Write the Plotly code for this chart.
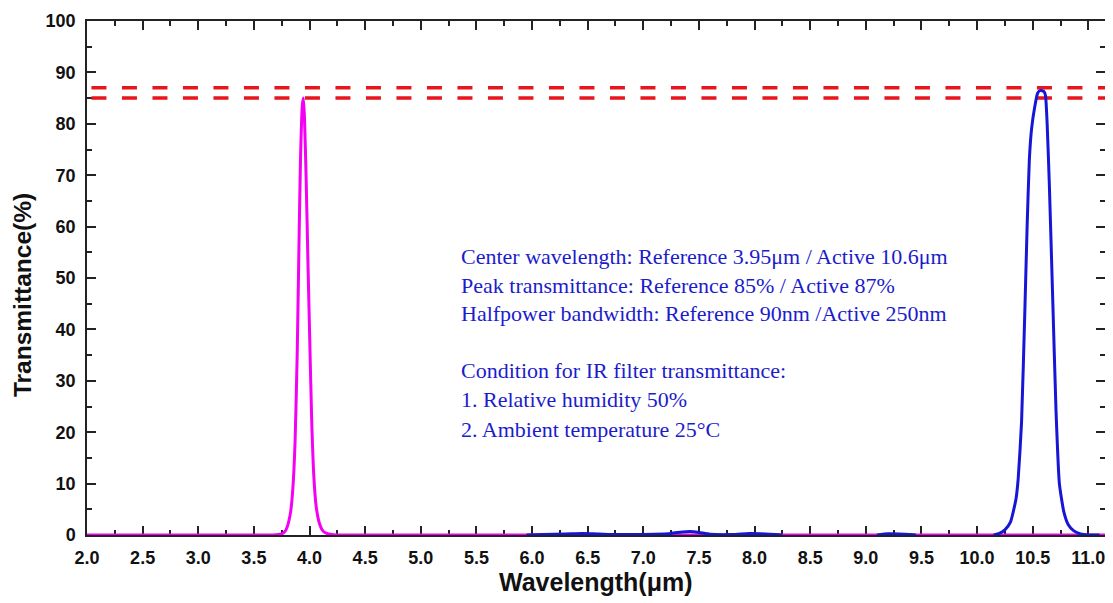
import plotly.graph_objects as go

# ---- data ----
ref_x = [2.0, 3.0, 3.6, 3.70, 3.75, 3.78, 3.80, 3.83, 3.85, 3.87, 3.89, 3.905, 3.92, 3.935, 3.945,
         3.955, 3.97, 3.985, 4.00, 4.02, 4.04, 4.06, 4.09, 4.12, 4.15, 4.20, 4.30, 5.0, 8.0, 11.15]
ref_y = [0.0, 0.0, 0.0, 0.05, 0.2, 0.7, 1.6, 4.5, 9.0, 18.0, 36.0, 56.0, 74.0, 83.5, 85.0,
         81.0, 69.0, 54.0, 40.0, 22.0, 11.0, 5.5, 2.2, 0.8, 0.35, 0.1, 0.0, 0.0, 0.0, 0.0]

act_x = [5.95, 6.1, 6.3, 6.45, 6.55, 6.7, 6.9, 7.1, 7.25, 7.35, 7.42, 7.5, 7.6, 7.8, 7.95, 8.05, 8.25, None,
         9.1, 9.2, 9.3, 9.45, None,
         10.15, 10.2, 10.25, 10.3, 10.35, 10.37, 10.40, 10.43, 10.45, 10.47, 10.49, 10.52, 10.545,
         10.57, 10.60, 10.615, 10.63, 10.65, 10.68, 10.71, 10.74, 10.78, 10.82, 10.87, 10.93, 11.0, 11.1]
act_y = [0.0, 0.1, 0.2, 0.3, 0.25, 0.1, 0.1, 0.15, 0.3, 0.6, 0.7, 0.5, 0.15, 0.1, 0.3, 0.25, 0.0, None,
         0.0, 0.25, 0.2, 0.0, None,
         0.0, 0.3, 1.0, 2.5, 7.0, 11.0, 22.0, 44.0, 60.0, 73.0, 79.0, 83.5, 86.0,
         86.5, 86.3, 85.5, 80.0, 68.0, 46.0, 24.0, 10.0, 4.5, 2.0, 0.8, 0.2, 0.0, 0.0]

line_x = [2.04, 11.15]
peak_ref_level = [85, 85]
peak_act_level = [87, 87]

x_ticks = [2.0 + 0.5 * i for i in range(19)]
y_ticks = [0, 10, 20, 30, 40, 50, 60, 70, 80, 90, 100]

notes = [
    "Center wavelength: Reference 3.95\u03bcm / Active 10.6\u03bcm",
    "Peak transmittance: Reference 85% / Active 87%",
    "Halfpower bandwidth: Reference 90nm /Active 250nm",
    "",
    "Condition for IR filter transmittance:",
    "1. Relative humidity 50%",
    "2. Ambient temperature 25\u00b0C",
]
note_y = [54.1, 48.6, 43.0, 37.4, 32.1, 26.3, 20.6]

fig = go.Figure()
fig.add_trace(go.Scatter(x=line_x, y=peak_act_level, mode="lines",
                         line=dict(color="#e8161c", width=3.5, dash="15px,15.5px"), hoverinfo="skip"))
fig.add_trace(go.Scatter(x=line_x, y=peak_ref_level, mode="lines",
                         line=dict(color="#e8161c", width=3.5, dash="15px,15.5px"), hoverinfo="skip"))
fig.add_trace(go.Scatter(x=ref_x, y=ref_y, mode="lines",
                         line=dict(color="#f400f4", width=3, shape="spline", smoothing=0.6)))
fig.add_trace(go.Scatter(x=act_x, y=act_y, mode="lines", connectgaps=False,
                         line=dict(color="#1616d6", width=3, shape="spline", smoothing=0.5)))

for txt, yy in zip(notes, note_y):
    if not txt:
        continue
    fig.add_annotation(x=5.343, y=yy, xref="x", yref="y", text=txt, showarrow=False,
                       xanchor="left", yanchor="middle",
                       font=dict(family="Liberation Serif", size=22, color="#1c1ccc"))

fig.add_annotation(x=0.5, y=-0.0915, xref="paper", yref="paper", text="Wavelength(\u03bcm)",
                   showarrow=False, xanchor="center", yanchor="middle",
                   font=dict(family="Liberation Sans", size=25, color="#111111", weight="bold"))
fig.add_annotation(x=-0.0628, y=0.467, xref="paper", yref="paper", text="Transmittance(%)",
                   showarrow=False, xanchor="center", yanchor="middle", textangle=-90,
                   font=dict(family="Liberation Sans", size=24.5, color="#111111", weight="bold"))

axis_common = dict(showgrid=False, zeroline=False, showline=True, linecolor="#222222", linewidth=1.5,
                   mirror="ticks", ticks="inside", tickcolor="#222222", tickwidth=1.5, ticklen=9,
                   layer="below traces",
                   tickfont=dict(family="Liberation Sans", size=18, color="#111111", weight="bold"))

fig.update_xaxes(range=[2.0, 11.15], tickvals=x_ticks, tickformat=".1f", ticklabelstandoff=6,
                 minor=dict(dtick=0.25, tick0=2.0, ticks="inside", ticklen=5, tickwidth=1.5,
                            tickcolor="#222222"),
                 **axis_common)
fig.update_yaxes(range=[0, 100], tickvals=y_ticks, ticklabelstandoff=6,
                 minor=dict(dtick=5, tick0=0, ticks="inside", ticklen=5, tickwidth=1.5,
                            tickcolor="#222222"),
                 **axis_common)

# page body has an 8px margin, so the figure is offset by (8, 8) in the window
fig.update_layout(width=1105, height=595, showlegend=False,
                  margin=dict(l=79, r=7.5, t=13, b=68, autoexpand=False),
                  plot_bgcolor="white", paper_bgcolor="white")

fig.write_html("out.html")
